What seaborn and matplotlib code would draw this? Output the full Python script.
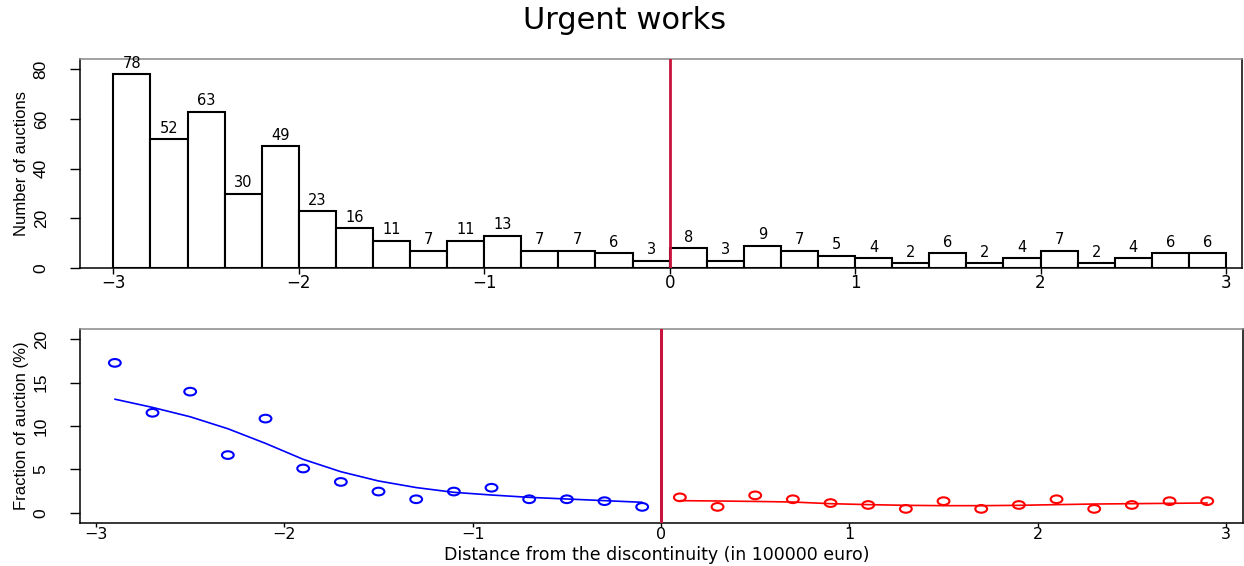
import numpy as np
import pandas as pd
import matplotlib
matplotlib.use("Agg")
import matplotlib.pyplot as plt
from matplotlib.path import Path
import seaborn as sns

# ---------------- data ----------------
bin_range = (-3.0, 3.0)
bin_width = 0.2
counts_left = [78, 52, 63, 30, 49, 23, 16, 11, 7, 11, 13, 7, 7, 6, 3]
counts_right = [8, 3, 9, 7, 5, 4, 2, 6, 2, 4, 7, 2, 4, 6, 6]

x_left = [-2.9, -2.7, -2.5, -2.3, -2.1, -1.9, -1.7, -1.5, -1.3, -1.1, -0.9, -0.7, -0.5, -0.3, -0.1]
x_right = [0.1, 0.3, 0.5, 0.7, 0.9, 1.1, 1.3, 1.5, 1.7, 1.9, 2.1, 2.3, 2.5, 2.7, 2.9]

frac_left = [17.29, 11.53, 13.97, 6.65, 10.86, 5.10, 3.55, 2.44, 1.55, 2.44, 2.88, 1.55, 1.55, 1.33, 0.67]
frac_right = [1.77, 0.67, 2.00, 1.55, 1.11, 0.89, 0.44, 1.33, 0.44, 0.89, 1.55, 0.44, 0.89, 1.33, 1.33]

fit_left = [13.1, 12.15, 11.07, 9.69, 8.0, 6.16, 4.73, 3.66, 2.9, 2.35, 2.04, 1.77, 1.58, 1.39, 1.2]
fit_right = [1.39, 1.35, 1.3, 1.23, 1.04, 0.93, 0.85, 0.81, 0.81, 0.85, 0.93, 1.0, 1.04, 1.08, 1.12]

x_ticks = [-3, -2, -1, 0, 1, 2, 3]
x_tick_labels = ["\u22123", "\u22122", "\u22121", "0", "1", "2", "3"]
y_ticks_top = [0, 20, 40, 60, 80]
y_ticks_bot = [0, 5, 10, 15, 20]

title = "Urgent works"
ylabel_top = "Number of auctions"
ylabel_bot = "Fraction of auction (%)"
xlabel_bot = "Distance from the discontinuity (in 100000 euro)"

# ---------------- style ----------------
sns.set_theme(style="white")
H_FONT = ["DejaVu Sans"]
V_FONT = ["Liberation Sans", "DejaVu Sans"]
plt.rcParams["font.family"] = H_FONT
plt.rcParams["text.color"] = "black"
plt.rcParams["axes.labelcolor"] = "black"
plt.rcParams["xtick.color"] = "black"
plt.rcParams["ytick.color"] = "black"

RED_V = "#C8143C"
W, H = 1244, 566

# horizontally stretched open circle (the reference is wider than tall)
_circ = Path.unit_circle()
ellipse_marker = Path(_circ.vertices * np.array([1.0, 0.65]), _circ.codes)

fig = plt.figure(figsize=(W / 100, H / 100), dpi=100)
ax1 = fig.add_axes([80 / W, 1 - 268 / H, (1241.7 - 80) / W, (268 - 59) / H])
ax2 = fig.add_axes([80 / W, 1 - 523 / H, (1243 - 80) / W, (523 - 329) / H])

# ---------------- top: histogram ----------------
centers = x_left + x_right
counts = counts_left + counts_right
hist_df = pd.DataFrame({"x": centers, "n": counts})
sns.histplot(data=hist_df, x="x", weights="n", binwidth=bin_width, binrange=bin_range,
             ax=ax1, color="white", edgecolor="black", linewidth=1.5, alpha=1.0)
for xc, n in zip(centers, counts):
    ax1.annotate(str(n), (xc, n), xytext=(0, 4.5), textcoords="offset points",
                 ha="center", va="baseline", fontsize=10.5, color="black")
ax1.axvline(0, color=RED_V, lw=2.0, zorder=5)
ax1.set_xlim(-3.18, 3.085)
ax1.set_ylim(0, 84.2)
ax1.set_xticks(x_ticks)
ax1.set_xticklabels(x_tick_labels)
ax1.set_yticks(y_ticks_top)
ax1.set_ylabel(ylabel_top, family=V_FONT, fontsize=12)
ax1.yaxis.set_label_coords((29 - 80) / 1161.7, 0.5)
ax1.set_xlabel("")

fig.suptitle(title, x=625 / W, y=1 - 29 / H, va="baseline", ha="center",
             fontsize=22, color="black")

# ---------------- bottom: fractions ----------------
df_l = pd.DataFrame({"x": x_left, "y": frac_left, "fit": fit_left})
df_r = pd.DataFrame({"x": x_right, "y": frac_right, "fit": fit_right})
sns.lineplot(data=df_l, x="x", y="fit", ax=ax2, color="blue", lw=1.2)
sns.lineplot(data=df_r, x="x", y="fit", ax=ax2, color="red", lw=1.2)
sns.scatterplot(data=df_l, x="x", y="y", ax=ax2, marker=ellipse_marker, s=72,
                facecolors="none", edgecolor="blue", linewidth=1.5)
sns.scatterplot(data=df_r, x="x", y="y", ax=ax2, marker=ellipse_marker, s=72,
                facecolors="none", edgecolor="red", linewidth=1.5)
ax2.axvline(0, color=RED_V, lw=2.2, zorder=5)
ax2.set_xlim(-3.085, 3.09)
ax2.set_ylim(-1.19, 21.2)
ax2.set_xticks(x_ticks)
ax2.set_xticklabels(x_tick_labels)
ax2.set_yticks(y_ticks_bot)
ax2.set_ylabel(ylabel_bot, family=V_FONT, fontsize=12)
ax2.yaxis.set_label_coords((29 - 80) / 1163, 0.5)
ax2.set_xlabel(xlabel_bot, fontsize=12.5)
ax2.xaxis.set_label_coords((656.5 - 80) / 1163, (523 - 546.5) / 194)

for ax in (ax1, ax2):
    for s in ax.spines.values():
        s.set_visible(True)
        s.set_color("black")
        s.set_linewidth(1.1)
    ax.spines["top"].set_color("#888888")
    ax.tick_params(axis="y", which="both", direction="out", length=7.5,
                   width=1.0, labelsize=12.5, left=True, pad=15)
    for lbl in ax.get_yticklabels():
        lbl.set_rotation(90)
        lbl.set_va("center")
        lbl.set_family(V_FONT)
    ax.grid(False)

ax1.tick_params(axis="x", which="both", direction="out", length=4.5,
                width=1.0, labelsize=12, bottom=True, pad=0)
ax2.tick_params(axis="x", which="both", direction="out", length=3.2,
                width=1.0, labelsize=11.5, bottom=True, pad=0)

fig.savefig("out.png", dpi=100, facecolor="white")
